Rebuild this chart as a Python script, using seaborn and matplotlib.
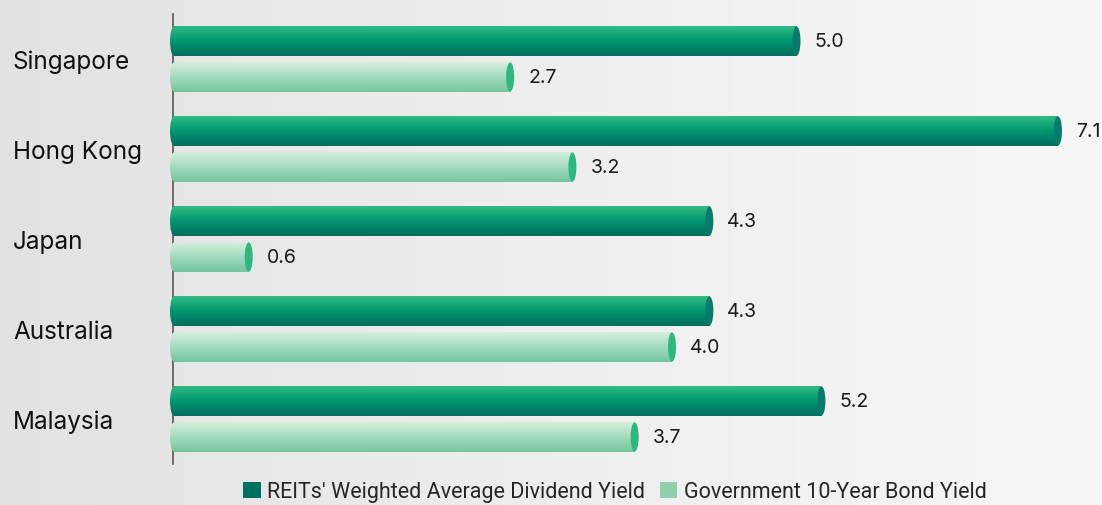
import numpy as np
import pandas as pd
import matplotlib
matplotlib.use("Agg")
import matplotlib.pyplot as plt
import seaborn as sns
from matplotlib.patches import Ellipse, Patch
from matplotlib.colors import LinearSegmentedColormap

# ---- data ----
countries = ["Singapore", "Hong Kong", "Japan", "Australia", "Malaysia"]
reit_yield = [5.0, 7.1, 4.3, 4.3, 5.2]
bond_yield = [2.7, 3.2, 0.6, 4.0, 3.7]
series_names = ["REITs' Weighted Average Dividend Yield", "Government 10-Year Bond Yield"]

df = pd.DataFrame({
    "country": countries * 2,
    "series": [series_names[0]] * len(countries) + [series_names[1]] * len(countries),
    "value": reit_yield + bond_yield,
})

# ---- styles ----
legend_colors = ["#00705f", "#8fd0ac"]
grad_colors = [
    ["#30bc83", "#00966f", "#006e5d"],   # dark bars: top -> bottom
    ["#d6eedf", "#a2dbbd", "#74c69d"],   # light bars
]
cap_colors = ["#087a6c", "#2cb87e"]

sns.set_theme(style="white")
plt.rcParams["font.family"] = ["Inter", "DejaVu Sans"]

W, H, DPI = 1102, 506, 100
fig = plt.figure(figsize=(W / DPI, H / DPI), dpi=DPI)

# background gradient
bg_ax = fig.add_axes([0, 0, 1, 1], zorder=-10)
xs = np.linspace(0, 1, 256)
bg = np.outer(np.ones(10), xs)
bg_cmap = LinearSegmentedColormap.from_list("bg", ["#e2e2e2", "#eeeeee", "#f7f7f7"])
bg_ax.imshow(bg, cmap=bg_cmap, aspect="auto", extent=(0, 1, 0, 1))
bg_ax.axis("off")

px_per_unit = 124.5
zero_px = 174          # pixel column of value 0
left_margin_px = 8     # room for the rounded left ends
ax_left, ax_right = zero_px - left_margin_px, 1102
ax_top, ax_bot = 15, 465
ax = fig.add_axes([ax_left / W, 1 - ax_bot / H, (ax_right - ax_left) / W, (ax_bot - ax_top) / H])
ax.patch.set_alpha(0)

sns.barplot(data=df, y="country", x="value", hue="series", orient="h",
            palette=legend_colors, width=0.8, gap=0.19, ax=ax, legend=False,
            saturation=1)

xmin = -left_margin_px / px_per_unit
xmax = (ax_right - zero_px) / px_per_unit

cap_w = 8 / px_per_unit  # ellipse width in data units

for si, cont in enumerate(ax.containers):
    cmap = LinearSegmentedColormap.from_list("g%d" % si, grad_colors[si])
    grad = np.linspace(0, 1, 64).reshape(-1, 1)
    for rect in cont.patches:
        x0, y0 = rect.get_x(), rect.get_y()
        w, h = rect.get_width(), rect.get_height()
        x1 = x0 + w
        yc = y0 + h / 2
        rect.set_facecolor("none")
        rect.set_edgecolor("none")
        # main gradient body
        im = ax.imshow(grad, cmap=cmap, aspect="auto", origin="upper",
                       extent=(x0, x1, y0 + h, y0), zorder=3, interpolation="bilinear")
        im.set_clip_path(rect)
        # rounded left end
        le = Ellipse((x0, yc), cap_w, h, facecolor="none", edgecolor="none")
        ax.add_patch(le)
        im2 = ax.imshow(grad, cmap=cmap, aspect="auto", origin="upper",
                        extent=(x0 - cap_w / 2, x0 + 0.002, y0 + h, y0), zorder=3,
                        interpolation="bilinear")
        im2.set_clip_path(le)
        # right cap
        re = Ellipse((x1, yc), cap_w, h, facecolor=cap_colors[si], edgecolor="none",
                     zorder=4)
        ax.add_patch(re)
        # value label
        ax.text(x1 + cap_w / 2 + 14 / px_per_unit, yc, f"{w:.1f}", va="center", ha="left",
                fontsize=14, color="#1a1a1a", family=["Inter", "DejaVu Sans"], zorder=5)

ax.set_xlim(xmin, xmax)
ax.set_ylim(len(countries) - 0.5, -0.5)

# axes styling
for s in ["top", "right", "bottom"]:
    ax.spines[s].set_visible(False)
ax.spines["left"].set_color("#555555")
ax.spines["left"].set_linewidth(1.2)
ax.spines["left"].set_position(("data", -1 / px_per_unit))
ax.spines["left"].set_zorder(1)
ax.set_xticks([])
ax.set_xlabel("")
ax.set_ylabel("")
ax.tick_params(axis="y", length=0, pad=(zero_px - 14) * 72 / DPI)
for lab in ax.get_yticklabels():
    lab.set_horizontalalignment("left")
    lab.set_fontsize(17.5)
    lab.set_color("#111111")
ax.grid(False)

handles = [Patch(facecolor=c, edgecolor="none") for c in legend_colors]
fig.legend(handles, series_names, loc="center", bbox_to_anchor=(615 / W, 1 - 493 / H),
           ncol=2, frameon=False, handlelength=0.8, handleheight=0.8,
           handletextpad=0.3, columnspacing=0.7,
           prop={"family": ["Roboto", "DejaVu Sans"], "size": 15.5})

fig.savefig("out.png", dpi=DPI)
